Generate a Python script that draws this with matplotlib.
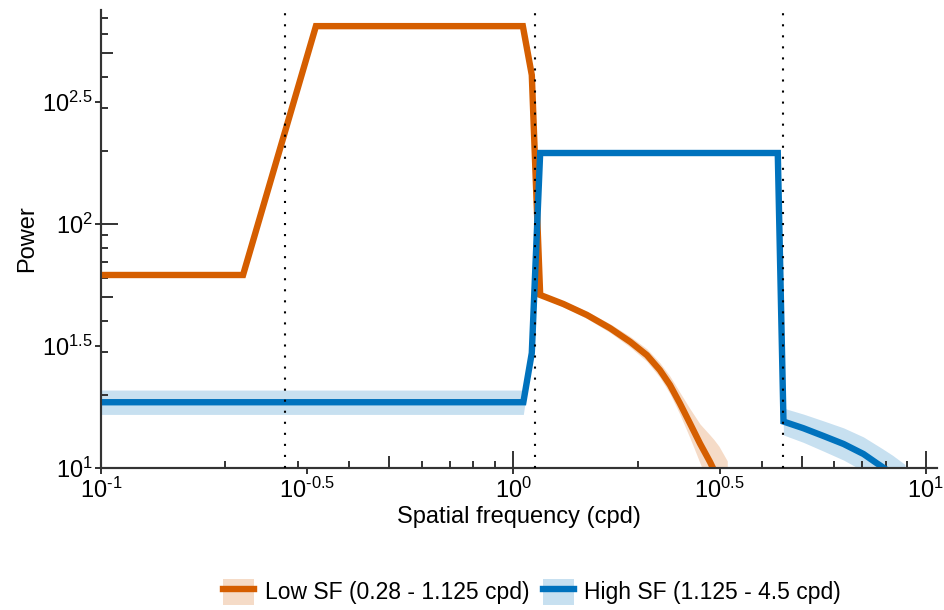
import numpy as np
import matplotlib.pyplot as plt
from matplotlib.ticker import FixedLocator, NullFormatter
from matplotlib.patches import Patch
from matplotlib.lines import Line2D

plt.rcParams['font.family'] = ['Liberation Sans', 'DejaVu Sans']
plt.rcParams['mathtext.fontset'] = 'custom'
plt.rcParams['mathtext.rm'] = 'Liberation Sans'
plt.rcParams['mathtext.it'] = 'Liberation Sans:italic'
plt.rcParams['mathtext.bf'] = 'Liberation Sans:bold'

# power spectra of the two filtered stimulus sets
low_freq = [0.1, 0.221, 0.332, 1.054, 1.108, 1.161, 1.322, 1.507, 1.716, 1.919, 2.107, 2.265,
            2.396, 2.533, 2.679, 2.834, 2.996, 3.064, 3.15, 3.3]
low_power = [61.8, 61.8, 647, 647, 408, 51.2, 47.0, 42.4, 37.4, 32.9, 29.0, 25.2,
             21.9, 18.4, 15.25, 12.6, 10.6, 9.8, 8.9, 7.4]
low_spread = [0.004, 0.004, 0.004, 0.004, 0.004, 0.008, 0.012, 0.015, 0.018, 0.022, 0.026, 0.03,
              0.036, 0.045, 0.06, 0.08, 0.11, 0.125, 0.14, 0.16]

high_freq = [0.1, 1.057, 1.108, 1.161, 4.375, 4.517, 5.05, 5.65, 6.32, 7.06, 7.61, 7.83, 8.3, 8.9]
high_power = [18.6, 18.6, 29.6, 195.4, 195.4, 15.5, 14.55, 13.52, 12.54, 11.41, 10.45, 10.12, 9.45, 8.6]
high_spread = [0.05, 0.05, 0.006, 0.004, 0.004, 0.055, 0.058, 0.062, 0.066, 0.07, 0.074, 0.075,
               0.077, 0.08]

# passband edges (cpd)
band_edges = [0.28, 1.125, 4.5]

series_labels = ['Low SF (0.28 - 1.125 cpd)', 'High SF (1.125 - 4.5 cpd)']
orange = '#D55E00'
blue = '#0072BD'

x_label_pos = [10**-1, 10**-0.5, 10**0, 10**0.5, 10**1]
x_tick_labels = ['$\\mathregular{10^{\u20101}}$', '$\\mathregular{10^{\u20100.5}}$', '$\\mathregular{10^{0}}$',
                 '$\\mathregular{10^{0.5}}$', '$\\mathregular{10^{1}}$']
y_label_pos = [10**1, 10**1.5, 10**2, 10**2.5]
y_tick_labels = ['$\\mathregular{10^{1}}$', '$\\mathregular{10^{1.5}}$', '$\\mathregular{10^{2}}$',
                 '$\\mathregular{10^{2.5}}$']

x_decades = [0.1, 1, 10]
x_fives = [0.5, 5]
x_minor = [0.2, 0.3, 0.4, 0.6, 0.7, 0.8, 0.9, 2, 3, 4, 6, 7, 8, 9]
y_decades = [10, 100]
y_fives = [50, 500]
y_minor = [20, 30, 40, 60, 70, 80, 90, 200, 300, 400, 600, 700]

fs = 17
spine_col = '#333333'

fig = plt.figure(figsize=(9.45, 6.1), dpi=100)
ax = fig.add_axes([0.1069, 0.2328, 0.8846, 0.7508])
ax.set_xscale('log')
ax.set_yscale('log')
ax.set_xlim(0.1, 10**1.027)
ax.set_ylim(10, 10**2.877)


def draw_series(freq, power, spread, color):
    freq = np.asarray(freq)
    power = np.asarray(power)
    spread = 10 ** np.asarray(spread)
    ax.fill_between(freq, power / spread, power * spread, color=color, alpha=0.22, lw=0, zorder=1)
    ax.plot(freq, power, color=color, lw=4.6, solid_joinstyle='miter', zorder=2)


draw_series(low_freq, low_power, low_spread, orange)
draw_series(high_freq, high_power, high_spread, blue)

for edge in band_edges:
    ax.axvline(edge, color='k', ls=(0, (1, 4.3)), lw=1.5, zorder=3)

for side in ['top', 'right']:
    ax.spines[side].set_visible(False)
for side in ['left', 'bottom']:
    ax.spines[side].set_color(spine_col)
    ax.spines[side].set_linewidth(1.5)

# inward ticks: decades long, the rest short
ax.xaxis.set_major_locator(FixedLocator(x_decades))
ax.xaxis.set_minor_locator(FixedLocator(x_minor))
ax.yaxis.set_major_locator(FixedLocator(y_decades))
ax.yaxis.set_minor_locator(FixedLocator(y_minor))
ax.tick_params(which='both', labelbottom=False, labelleft=False, color=spine_col, width=1.4)
ax.tick_params(which='major', direction='in', length=12.5)
ax.tick_params(which='minor', direction='in', length=5)

# labelled half-decade ticks plus the medium 5x ticks
secx = ax.secondary_xaxis('bottom')
secx.set_ticks(x_label_pos, labels=x_tick_labels)
secx.xaxis.set_minor_locator(FixedLocator(x_fives))
secx.xaxis.set_minor_formatter(NullFormatter())
secx.tick_params(which='major', direction='out', length=4, width=1.4, color=spine_col,
                 labelsize=fs, pad=3)
secx.tick_params(which='minor', direction='in', length=8.5, width=1.4, color=spine_col)
secx.spines['bottom'].set_color(spine_col)
secx.spines['bottom'].set_linewidth(1.5)
secx.set_xlabel('Spatial frequency (cpd)', fontsize=fs, labelpad=2)

secy = ax.secondary_yaxis('left')
secy.set_ticks(y_label_pos, labels=y_tick_labels)
secy.yaxis.set_minor_locator(FixedLocator(y_fives))
secy.yaxis.set_minor_formatter(NullFormatter())
secy.tick_params(which='major', direction='out', length=4, width=1.4, color=spine_col,
                 labelsize=fs, pad=2)
secy.tick_params(which='minor', direction='in', length=8.5, width=1.4, color=spine_col)
secy.spines['left'].set_color(spine_col)
secy.spines['left'].set_linewidth(1.5)
secy.set_ylabel('Power', fontsize=fs, labelpad=3)

handles = [
    (Patch(facecolor=orange, alpha=0.22, edgecolor='none'), Line2D([], [], color=orange, lw=4.6)),
    (Patch(facecolor=blue, alpha=0.22, edgecolor='none'), Line2D([], [], color=blue, lw=4.6)),
]
fig.legend(handles, series_labels, loc='center', bbox_to_anchor=(0.563, 0.03), ncol=2,
           frameon=False, fontsize=16.5, handlelength=1.36, handleheight=1.35,
           handletextpad=0.45, columnspacing=0.6)

fig.savefig('out.png', dpi=100)
